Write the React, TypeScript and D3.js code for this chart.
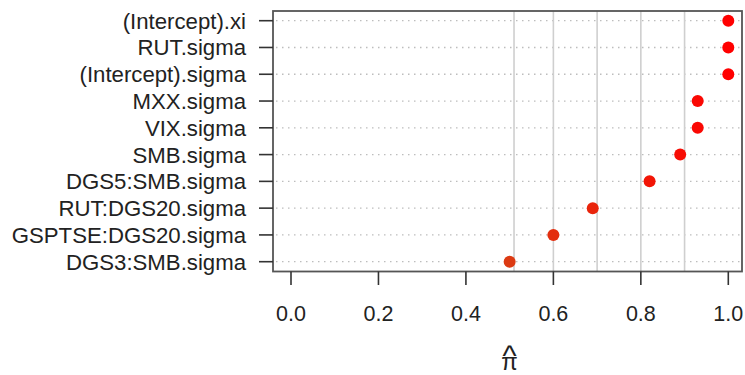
import React from "react";
import * as d3 from "d3";

const categories = [
  "(Intercept).xi",
  "RUT.sigma",
  "(Intercept).sigma",
  "MXX.sigma",
  "VIX.sigma",
  "SMB.sigma",
  "DGS5:SMB.sigma",
  "RUT:DGS20.sigma",
  "GSPTSE:DGS20.sigma",
  "DGS3:SMB.sigma",
];
const values = [1.0, 1.0, 1.0, 0.93, 0.93, 0.89, 0.82, 0.69, 0.6, 0.5];
const xTicks = [0, 0.2, 0.4, 0.6, 0.8, 1.0];
const refLines = [0.51, 0.6, 0.7, 0.8, 0.9];

export default function App() {
  const W = 745, H = 375;
  const x = d3.scaleLinear().domain([0, 1]).range([291, 728.3]);
  const y = d3.scalePoint<string>().domain(categories).range([20.7, 261.7]);
  const box = { left: 273, top: 11, right: 742, bottom: 271.5 };
  const color = d3.scaleLinear<string>().domain([0.5, 1]).range(["#dc3a12", "#ff0000"]).interpolate(d3.interpolateRgb);
  const font = "'Liberation Sans', Arial, Helvetica, sans-serif";
  return (
    <svg width={W} height={H} style={{ position: "absolute", left: 0, top: 0 }} fontFamily={font}>
      <rect width={W} height={H} fill="#fff" />
      {categories.map((c) => (
        <line key={"g" + c} x1={box.left + 3} x2={box.right - 2} y1={y(c)} y2={y(c)}
          stroke="#bdbdbd" strokeWidth={1.3} strokeDasharray="1.5 4.5" />
      ))}
      {refLines.map((v) => (
        <line key={"r" + v} x1={x(v)} x2={x(v)} y1={box.top} y2={box.bottom} stroke="#cfcfcf" strokeWidth={1.6} />
      ))}
      {categories.map((c, i) => (
        <circle key={"p" + c} cx={x(values[i])} cy={y(c)} r={6} fill={color(values[i])} />
      ))}
      <rect x={box.left} y={box.top} width={box.right - box.left} height={box.bottom - box.top}
        fill="none" stroke="#555" strokeWidth={1.8} />
      {categories.map((c) => (
        <g key={"y" + c}>
          <line x1={259} x2={box.left} y1={y(c)} y2={y(c)} stroke="#333" strokeWidth={1.6} />
          <text x={246} y={y(c)} dy="0.36em" textAnchor="end" fontSize={22.2} fill="#222">{c}</text>
        </g>
      ))}
      {xTicks.map((t) => (
        <g key={"x" + t}>
          <line x1={x(t)} x2={x(t)} y1={box.bottom} y2={285} stroke="#333" strokeWidth={1.6} />
          <text x={x(t)} y={321} textAnchor="middle" fontSize={21.5} fill="#222">{d3.format(".1f")(t)}</text>
        </g>
      ))}
      <text textAnchor="middle" fill="#222">
        <tspan x={509.5} y={366} fontSize={30}>^</tspan>
        <tspan x={509.5} y={370} fontSize={24}>π</tspan>
      </text>
    </svg>
  );
}
